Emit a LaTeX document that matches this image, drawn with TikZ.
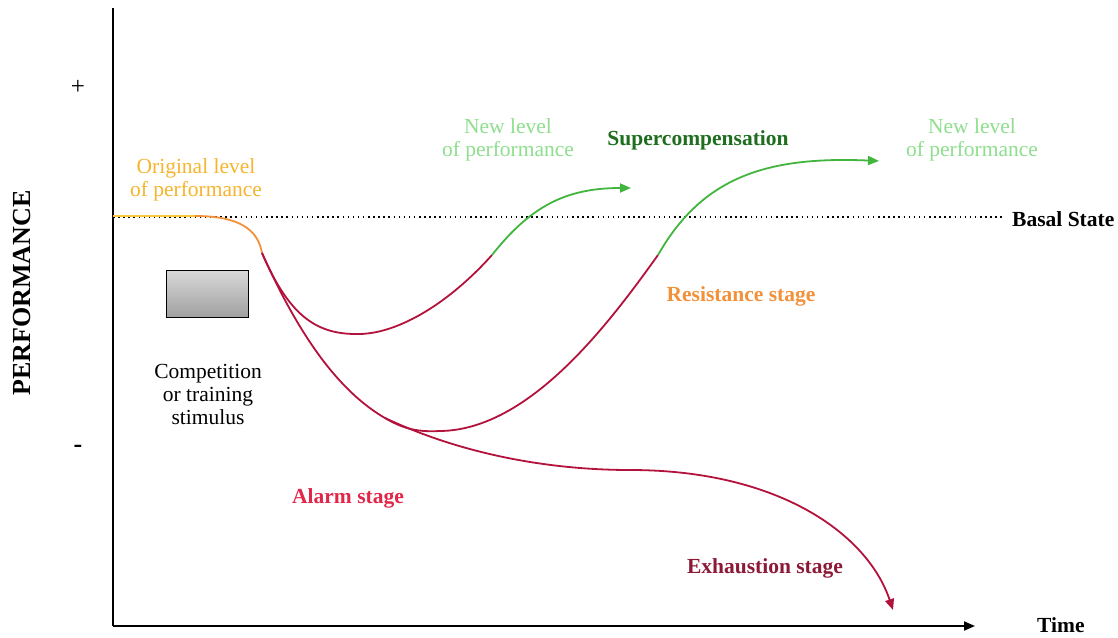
\documentclass[tikz,border=0pt]{standalone}
\usepackage{fontspec}
\setmainfont{Liberation Serif}
\usetikzlibrary{arrows.meta}
\definecolor{redc}{HTML}{B3123C}
\definecolor{greenc}{HTML}{42B53F}
\definecolor{orangec}{HTML}{F2913A}
\definecolor{yellowc}{HTML}{F7C93A}
\definecolor{origc}{HTML}{F6B52E}
\definecolor{newc}{HTML}{8EDF8E}
\definecolor{superc}{HTML}{1F6E1F}
\definecolor{alarmc}{HTML}{E2264A}
\definecolor{exhc}{HTML}{8C1A37}
\begin{document}
\begin{tikzpicture}[x=1pt,y=-1pt,
  txt/.style={font=\fontsize{21.5}{23}\selectfont, align=center, inner sep=0pt},
  btxt/.style={font=\fontsize{21.5}{23}\selectfont\bfseries, inner sep=0pt},
  curve/.style={line width=1.8pt},
  tip/.style={-{Triangle[length=11pt,width=9pt]}}]
\useasboundingbox (0,0) rectangle (1118,637);
\fill[white] (0,0) rectangle (1118,637);
% axes
\coordinate (ytop) at (113,8);
\coordinate (origin) at (113,626);
\coordinate (xend) at (975,626);
\draw[line width=2pt] (ytop) -- (origin);
\draw[line width=2pt, tip] (origin) -- (xend);
\node[font=\fontsize{26}{28}\selectfont\bfseries, inner sep=0pt, rotate=90] (perf) at (22,293) {PERFORMANCE};
\node[font=\fontsize{25}{27}\selectfont, inner sep=0pt] (plus) at (78,87) {+};
\node[font=\fontsize{26}{28}\selectfont\bfseries, inner sep=0pt] (minus) at (78,449) {-};
\node[btxt, anchor=west] (time) at (1037,625) {Time};
% basal line
\coordinate (b0) at (113,217);
\coordinate (b1) at (1005,217);
\draw[line width=1.5pt, dash pattern=on 1.5pt off 3.6pt] (b0) -- (b1);
\node[btxt, anchor=west] (basal) at (1012,219) {Basal State};
% original level
\coordinate (o0) at (113,216);
\coordinate (o1) at (195,216);
\coordinate (s) at (262,253);
\draw[curve, yellowc] (o0) -- (o1);
\draw[curve, orangec] (o1) .. controls (240,216) and (258,230) .. (s);
\node[txt, origc] (orig) at (196,180) {Original level\\of performance};
% stimulus box
\node[draw, line width=1.8pt, top color=gray!30, bottom color=gray!75, minimum width=82pt, minimum height=47pt, inner sep=0pt] (box) at (207.5,294) {};
\node[txt] (stim) at (208,394) {Competition\\or training\\stimulus};
% red curves
\coordinate (m1) at (360,334);
\coordinate (e1) at (492,255);
\coordinate (j) at (385,418);
\coordinate (m2) at (440,431);
\coordinate (e2) at (658,255);
\coordinate (f) at (630,470);
\coordinate (x) at (893,610);
\draw[curve, redc] (s) .. controls (290,318) and (318,335) .. (m1) .. controls (400,333) and (450,302) .. (e1);
\draw[curve, redc] (s) .. controls (300,338) and (340,392) .. (j);
\draw[curve, redc] (j) .. controls (405,430) and (420,432) .. (m2) .. controls (530,430) and (610,322) .. (e2);
\draw[curve, redc, tip] (j) .. controls (470,458) and (560,470) .. (f) .. controls (780,470) and (868,535) .. (x);
% green curves
\coordinate (g1) at (631,188);
\coordinate (g2) at (879,161);
\draw[curve, greenc, tip] (e1) .. controls (530,207) and (565,188) .. (g1);
\draw[curve, greenc, tip] (e2) .. controls (702,178) and (765,156) .. (g2);
% labels
\node[txt, newc] (new1) at (508,140) {New level\\of performance};
\node[btxt, superc] (super) at (698,140) {Supercompensation};
\node[txt, newc] (new2) at (972,140) {New level\\of performance};
\node[btxt, orangec] (resist) at (741,296) {Resistance stage};
\node[btxt, alarmc] (alarm) at (348,498) {Alarm stage};
\node[btxt, exhc] (exh) at (765,568) {Exhaustion stage};
\end{tikzpicture}
\end{document}
